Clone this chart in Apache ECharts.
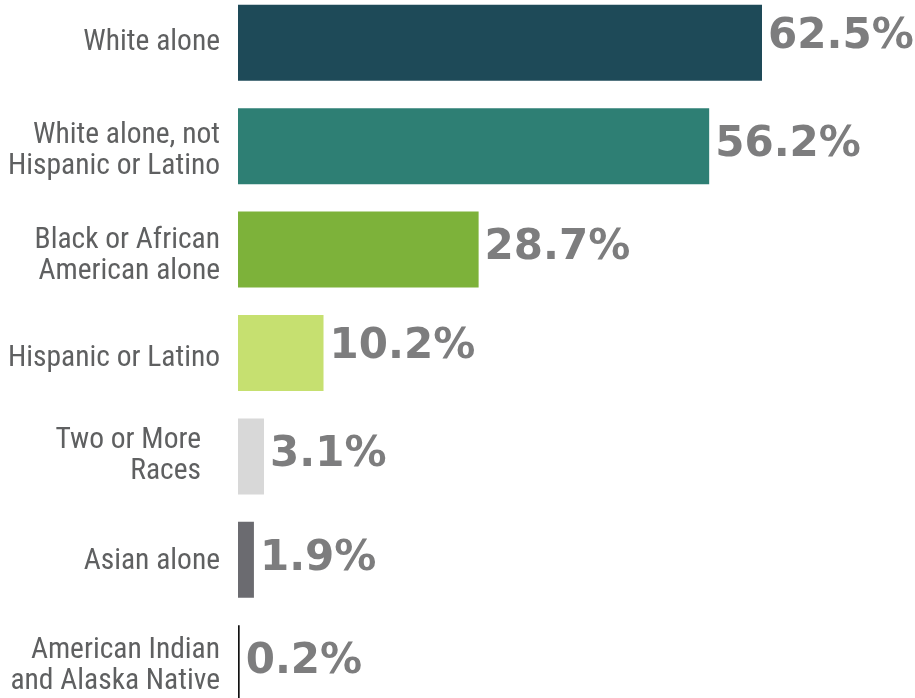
<!DOCTYPE html>
<html><head><meta charset="utf-8">
<script src="https://cdn.jsdelivr.net/npm/echarts@6/dist/echarts.min.js"></script>
<style>html,body{margin:0;padding:0;background:#fff}#c{width:915px;height:698px}</style>
</head><body><div id="c"></div>
<script>
var categories = ["White alone", "White alone, not\nHispanic or Latino", "Black or African\nAmerican alone", "Hispanic or Latino", "Two or More\nRaces", "Asian alone", "American Indian\nand Alaska Native"];
var values = [62.5, 56.2, 28.7, 10.2, 3.1, 1.9, 0.2];
var colors = ["#1e4a58", "#2e7f74", "#7db23a", "#c6e070", "#d8d8d8", "#6b6b70", "#111111"];
// small per-row nudges of the text
var catShift = [0, 5, 7, 6, 0, 2, 3];
var catRightPad = [0, 0, 0, 0, 19, 0, 0];
var valShift = [-6, -1, -1, -6, -1, -1, -1];

var chart = echarts.init(document.getElementById('c'), null, {renderer: 'canvas'});
chart.setOption({
  animation: false,
  grid: {left: 238, top: -9, width: 524, height: 724, containLabel: false, outerBoundsMode: 'none'},
  xAxis: {type: 'value', min: 0, max: 62.5, show: false},
  yAxis: {
    type: 'category', inverse: true, data: categories,
    axisLine: {show: false}, axisTick: {show: false}, axisLabel: {show: false}
  },
  series: [{
    type: 'bar', barCategoryGap: '26.5%',
    data: values.map(function (v, i) {
      return {value: v, itemStyle: {color: colors[i]}, label: {offset: [0, valShift[i]]}};
    }),
    label: {show: true, position: 'right', distance: 6, color: '#7d7d7e', fontSize: 42,
      fontWeight: 'bold', fontFamily: "'DejaVu Sans', sans-serif",
      formatter: function (p) { return p.value.toFixed(1) + '%'; }}
  }, {
    // category names, drawn as labels of zero-length helper bars at the axis origin
    type: 'bar', barGap: '-100%', barCategoryGap: '26.5%', silent: true,
    itemStyle: {color: 'rgba(0,0,0,0)'},
    data: categories.map(function (c, i) {
      return {value: 0, label: {offset: [-catRightPad[i], catShift[i]]}};
    }),
    label: {show: true, position: 'left', distance: 18, color: '#5f6061', fontSize: 29.5,
      lineHeight: 31, align: 'right',
      fontFamily: "'Liberation Sans Narrow', 'Roboto Condensed', Roboto, sans-serif",
      formatter: function (p) { return p.name; }}
  }]
});
</script></body></html>
